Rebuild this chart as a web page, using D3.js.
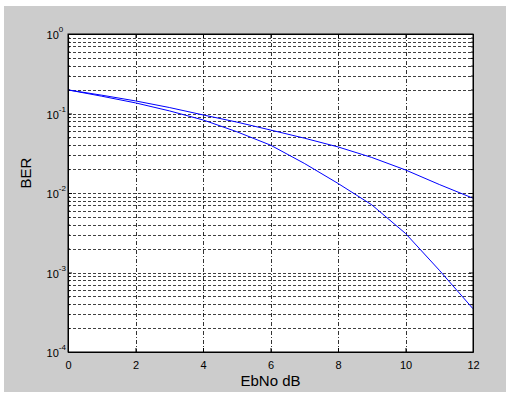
<!DOCTYPE html>
<html>
<head>
<meta charset="utf-8">
<script src="https://cdn.jsdelivr.net/npm/d3@7"></script>
<style>
  body { margin: 0; background: #fff; }
  text { font-family: Arial, "Liberation Sans", sans-serif; fill: #000; }
</style>
</head>
<body>
<div id="chart"></div>
<script>
// EbNo (dB) sample points
const ebno = [0, 1, 2, 3, 4, 5, 6, 7, 8, 9, 10, 11, 12];
// BER curves
const berUpper = [0.198, 0.170, 0.144, 0.119, 0.096, 0.078, 0.062, 0.049, 0.038, 0.028, 0.0195, 0.0128, 0.0086];
const berLower = [0.198, 0.165, 0.136, 0.108, 0.083, 0.059, 0.040, 0.0236, 0.0132, 0.0071, 0.0031, 0.00107, 0.00035];
const xTicks = [0, 2, 4, 6, 8, 10, 12];
const yDecades = [-4, -3, -2, -1, 0];

const W = 506, H = 393;
const margin = { top: 34, right: 33, bottom: 41, left: 68 };
const width = W - margin.left - margin.right;
const height = H - margin.top - margin.bottom;

const svg = d3.select('#chart').append('svg')
  .attr('width', W)
  .attr('height', H);

// figure background
svg.append('rect')
  .attr('x', 4).attr('y', 6)
  .attr('width', W - 4).attr('height', H - 7)
  .attr('fill', '#cccccc');

const g = svg.append('g')
  .attr('transform', `translate(${margin.left},${margin.top})`);

const x = d3.scaleLinear().domain([0, 12]).range([0, width]);
const y = d3.scaleLog().domain([1e-4, 1]).range([height, 0]);

g.append('rect')
  .attr('width', width).attr('height', height)
  .attr('fill', '#fff');

// minor + major horizontal grid values
const yGrid = [];
yDecades.slice(0, -1).forEach(e => {
  for (let m = 1; m < 10; m++) yGrid.push(m * Math.pow(10, e));
});
yGrid.push(1);

g.append('g').selectAll('line')
  .data(yGrid.filter(v => v > 1e-4 && v < 1))
  .join('line')
  .attr('x1', 0).attr('x2', width)
  .attr('y1', d => Math.round(y(d)) + 0.5)
  .attr('y2', d => Math.round(y(d)) + 0.5)
  .attr('stroke', '#000')
  .attr('stroke-opacity', 0.75)
  .attr('stroke-dasharray', '3,2');

g.append('g').selectAll('line')
  .data(xTicks.slice(1, -1))
  .join('line')
  .attr('x1', d => Math.round(x(d)) + 0.5)
  .attr('x2', d => Math.round(x(d)) + 0.5)
  .attr('y1', 0).attr('y2', height)
  .attr('stroke', '#000')
  .attr('stroke-opacity', 0.8)
  .attr('stroke-dasharray', '4,2,1,2');

// data lines
const line = d3.line()
  .x((d, i) => x(ebno[i]))
  .y(d => y(d));

[berUpper, berLower].forEach(series => {
  g.append('path')
    .datum(series)
    .attr('fill', 'none')
    .attr('stroke', '#0000ff')
    .attr('stroke-width', 1)
    .attr('d', line);
});

// axes: ticks inward on all four sides
const xBottom = d3.axisBottom(x).tickValues(xTicks).tickSizeInner(-4).tickSizeOuter(0).tickPadding(9);
const xTop = d3.axisTop(x).tickValues(xTicks).tickSizeInner(-4).tickSizeOuter(0).tickFormat('');
const yLeft = d3.axisLeft(y).tickValues(yGrid).tickSizeInner(0).tickSizeOuter(0).tickFormat('');
const yRight = d3.axisRight(y).tickValues(yGrid).tickSizeInner(0).tickSizeOuter(0).tickFormat('');

const xb = g.append('g').attr('transform', `translate(0,${height})`).call(xBottom);
xb.selectAll('text').attr('font-size', 11);
g.append('g').call(xTop);
const yl = g.append('g').call(yLeft);
const yr = g.append('g').attr('transform', `translate(${width},0)`).call(yRight);

const isMajor = v => Math.abs(Math.log10(v) - Math.round(Math.log10(v))) < 1e-9;
yl.selectAll('.tick line').attr('x2', d => isMajor(d) ? 4 : 2);
yr.selectAll('.tick line').attr('x2', d => isMajor(d) ? -4 : -2);

g.selectAll('.domain').attr('stroke', '#000');

// y tick labels as 10^n
const yLab = g.append('g');
yDecades.forEach(e => {
  const t = yLab.append('text')
    .attr('x', -7)
    .attr('y', y(Math.pow(10, e)) + 5)
    .attr('text-anchor', 'end')
    .attr('font-size', 11);
  t.append('tspan').text('10');
  t.append('tspan')
    .attr('dy', -7)
    .attr('font-size', 8)
    .text(String(e).replace('-', '-'));
});
yLab.selectAll('text').attr('transform', function() {
  const bb = this.getBBox();
  return `translate(${bb.width - 15},0)`;
});

// box
g.append('rect')
  .attr('width', width).attr('height', height)
  .attr('fill', 'none')
  .attr('stroke', '#000');

// axis titles
svg.append('text')
  .attr('x', margin.left + width / 2)
  .attr('y', 386)
  .attr('text-anchor', 'middle')
  .attr('font-size', 15)
  .text('EbNo dB');

svg.append('text')
  .attr('transform', 'translate(31,173) rotate(-90)')
  .attr('text-anchor', 'middle')
  .attr('font-size', 15)
  .text('BER');
</script>
</body>
</html>
